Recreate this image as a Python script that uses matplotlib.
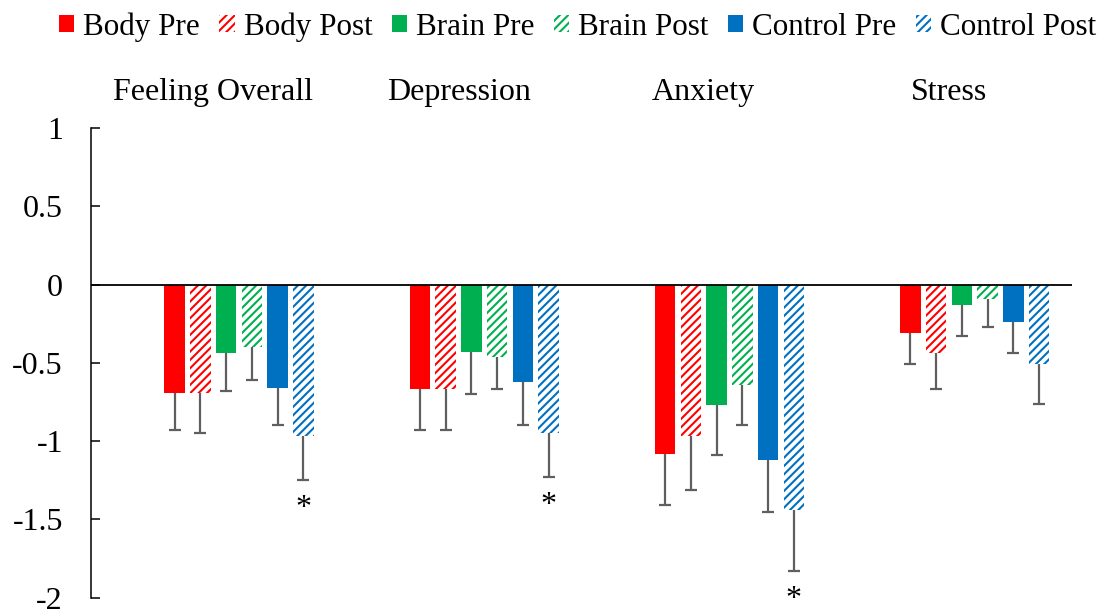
import numpy as np
import matplotlib
matplotlib.use("Agg")
import matplotlib.pyplot as plt

plt.rcParams["font.family"] = ["Liberation Serif", "DejaVu Serif"]
plt.rcParams["hatch.linewidth"] = 1.5

# Mean change scores per measure and group (with one-sided error bars)
categories = ["Feeling Overall", "Depression", "Anxiety", "Stress"]
series_names = ["Body Pre", "Body Post", "Brain Pre", "Brain Post",
                "Control Pre", "Control Post"]

body_pre = [-0.69, -0.67, -1.08, -0.31]
body_post = [-0.69, -0.67, -0.97, -0.44]
brain_pre = [-0.44, -0.43, -0.77, -0.13]
brain_post = [-0.40, -0.46, -0.64, -0.09]
control_pre = [-0.66, -0.62, -1.12, -0.24]
control_post = [-0.97, -0.95, -1.44, -0.51]

body_pre_err = [0.24, 0.26, 0.33, 0.20]
body_post_err = [0.26, 0.26, 0.34, 0.23]
brain_pre_err = [0.24, 0.27, 0.32, 0.20]
brain_post_err = [0.21, 0.21, 0.26, 0.18]
control_pre_err = [0.24, 0.28, 0.33, 0.20]
control_post_err = [0.28, 0.28, 0.39, 0.25]

control_post_sig = ["*", "*", "*", ""]

values = [body_pre, body_post, brain_pre, brain_post, control_pre, control_post]
errors = [body_pre_err, body_post_err, brain_pre_err, brain_post_err,
          control_pre_err, control_post_err]

RED, GREEN, BLUE = "#FF0000", "#00B050", "#0070C0"
colors = [RED, RED, GREEN, GREEN, BLUE, BLUE]
hatched = [False, True, False, True, False, True]
ERR_COLOR = "#5F5F5F"

fig = plt.figure(figsize=(11.03, 6.10), dpi=100)
ax = fig.add_axes([0.0822, 0.0202, 0.8894, 0.7700])

slot = 0.105
width = 0.0836
base = np.arange(len(categories)) + 0.5

bars = []
for j, (vals, errs) in enumerate(zip(values, errors)):
    x = base + (j - 1.5) * slot
    vals = np.asarray(vals)
    errs = np.asarray(errs)
    if hatched[j]:
        b = ax.bar(x, vals, width, facecolor="white", edgecolor=colors[j],
                   hatch="////", linewidth=0, label=series_names[j], zorder=2)
    else:
        b = ax.bar(x, vals, width, color=colors[j], linewidth=0,
                   label=series_names[j], zorder=2)
    bars.append(b)
    # error bars extend away from zero only
    ax.vlines(x, vals, vals - errs, color=ERR_COLOR, linewidth=1.6, zorder=3)
    ax.plot(x, vals - errs, linestyle="none", marker="_", markersize=9,
            markeredgewidth=1.6, color=ERR_COLOR, zorder=3)

# significance markers below the Control Post error bars
cp_x = base + 3.5 * slot
for xi, v, e, s in zip(cp_x, control_post, control_post_err, control_post_sig):
    if s:
        ax.annotate(s, (xi, v - e), xytext=(0, -10), textcoords="offset points",
                    ha="center", va="top", fontsize=23, annotation_clip=False)

ax.set_xlim(0, len(categories))
ax.set_ylim(-2, 1)
ax.set_yticks([1, 0.5, 0, -0.5, -1, -1.5, -2])
ax.set_yticklabels(["1", "0.5", "0", "-0.5", "-1", "-1.5", "-2"])
ax.tick_params(axis="y", direction="in", length=6.5, width=1.1, pad=20,
               labelsize=23)

ax.set_xticks(base)
ax.set_xticklabels(categories)
ax.tick_params(axis="x", bottom=False, labelbottom=False, top=False,
               labeltop=True, length=0, pad=15, labelsize=23)

for side in ["top", "right", "bottom"]:
    ax.spines[side].set_visible(False)
ax.spines["left"].set_linewidth(1.1)
ax.axhline(0, color="black", linewidth=1.3, zorder=4)

fig.legend(handles=bars, loc="center", bbox_to_anchor=(0.5236, 0.956),
           ncol=6, frameon=False, fontsize=22.4, handlelength=0.49,
           handleheight=0.46, handletextpad=0.29, columnspacing=0.62,
           borderpad=0, borderaxespad=0)

fig.savefig("out.png", dpi=100)
